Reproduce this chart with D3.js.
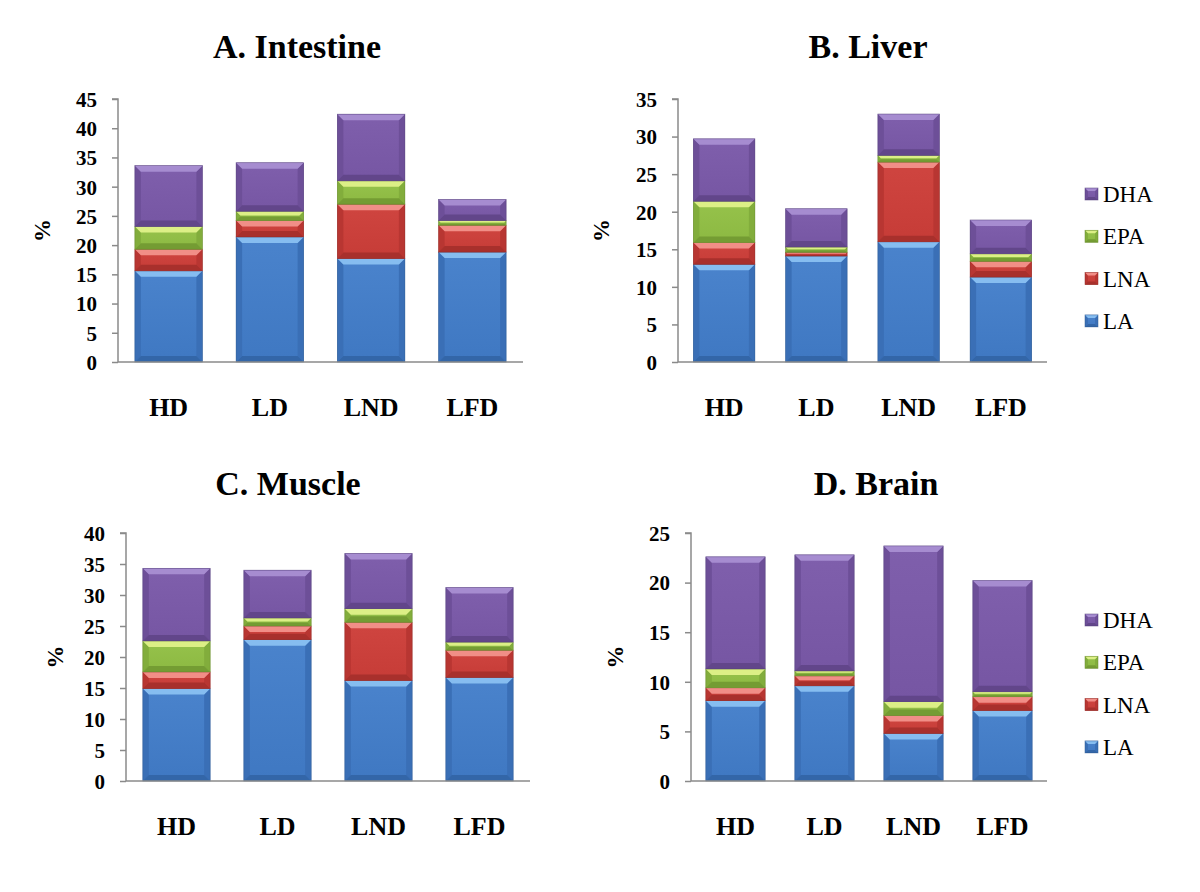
<!DOCTYPE html>
<html>
<head>
<meta charset="utf-8">
<script src="https://cdn.jsdelivr.net/npm/d3@7"></script>
<style>
  html, body { margin: 0; padding: 0; background: #fff; }
  svg { display: block; }
  svg text { font-family: "Liberation Serif", "Tinos", "Times New Roman", "DejaVu Serif", serif; }
</style>
</head>
<body>
<svg id="chart" width="1200" height="892"></svg>
<script>
// ---- data ----
const categories = ["HD", "LD", "LND", "LFD"];
const seriesNames = ["LA", "LNA", "EPA", "DHA"];
const legendOrder = ["DHA", "EPA", "LNA", "LA"];

// segment values (%), rows follow seriesNames, columns follow categories
const intestineValues = [
  [15.6, 21.4, 17.7, 18.8], // LA
  [3.7, 2.8, 9.3, 4.6],     // LNA
  [3.9, 1.6, 4.0, 0.8],     // EPA
  [10.4, 8.3, 11.4, 3.6]    // DHA
];
const liverValues = [
  [13.0, 14.1, 16.0, 11.3],
  [2.9, 0.5, 10.6, 2.1],
  [5.5, 0.7, 0.9, 1.0],
  [8.3, 5.1, 5.5, 4.5]
];
const muscleValues = [
  [14.9, 22.8, 16.2, 16.7],
  [2.7, 2.2, 9.4, 4.4],
  [5.0, 1.3, 2.2, 1.3],
  [11.7, 7.7, 8.9, 8.8]
];
const brainValues = [
  [8.1, 9.6, 4.8, 7.1],
  [1.3, 1.0, 1.8, 1.4],
  [1.9, 0.5, 1.4, 0.5],
  [11.3, 11.7, 15.7, 11.2]
];

const intestineTicks = [0, 5, 10, 15, 20, 25, 30, 35, 40, 45];
const liverTicks = [0, 5, 10, 15, 20, 25, 30, 35];
const muscleTicks = [0, 5, 10, 15, 20, 25, 30, 35, 40];
const brainTicks = [0, 5, 10, 15, 20, 25];

const titles = ["A. Intestine", "B. Liver", "C. Muscle", "D. Brain"];

// ---- styles ----
const palette = {
  LA:  { face: "#3f78c2", top: "#86bdf0", side: "#3a6fb6", bottom: "#3366a8", edge: "#2f5a92", hiTop: "#4a83cc" },
  LNA: { face: "#c63c37", top: "#f18e87", side: "#b83632", bottom: "#a8302c", edge: "#8e2b27", hiTop: "#cf4540" },
  EPA: { face: "#8cb942", top: "#dcef86", side: "#82ad3c", bottom: "#749c33", edge: "#66872e", hiTop: "#96c24b" },
  DHA: { face: "#7656a3", top: "#a68cd0", side: "#6d4f98", bottom: "#62468a", edge: "#54407a", hiTop: "#7f5fac" }
};

const serif = "'Liberation Serif', 'Tinos', 'Times New Roman', 'DejaVu Serif', serif";

const svg = d3.select("#chart");
svg.append("rect").attr("width", 1200).attr("height", 892).attr("fill", "#fff");

const defs = svg.append("defs");
seriesNames.forEach(s => {
  const g = defs.append("linearGradient").attr("id", "grad-" + s)
    .attr("x1", 0).attr("y1", 0).attr("x2", 0).attr("y2", 1);
  g.append("stop").attr("offset", "0%").attr("stop-color", palette[s].hiTop);
  g.append("stop").attr("offset", "100%").attr("stop-color", palette[s].face);
});

const panels = [
  { title: titles[0], values: intestineValues, ticks: intestineTicks, x0: 118, x1: 523, yTop: 99, yBot: 362, titleX: 297, titleY: 58, legend: false, pctX: 42 },
  { title: titles[1], values: liverValues, ticks: liverTicks, x0: 678, x1: 1047, yTop: 99, yBot: 362, titleX: 868, titleY: 58, legend: true, legendY: 194, pctX: 601 },
  { title: titles[2], values: muscleValues, ticks: muscleTicks, x0: 126, x1: 530, yTop: 533, yBot: 781, titleX: 288, titleY: 495, legend: false, pctX: 55 },
  { title: titles[3], values: brainValues, ticks: brainTicks, x0: 691, x1: 1047, yTop: 533, yBot: 781, titleX: 876, titleY: 495, legend: true, legendY: 620, pctX: 615 }
];

function bevelBox(g, x, y, w, h, s, bMax) {
  const p = palette[s];
  const b = Math.max(1, Math.min(bMax, h / 2 - 0.5, w / 2));
  g.append("rect").attr("x", x).attr("y", y).attr("width", w).attr("height", h)
    .attr("fill", "url(#grad-" + s + ")");
  const poly = pts => pts.map(q => q.join(",")).join(" ");
  g.append("polygon").attr("points", poly([[x, y], [x + b, y + b], [x + b, y + h - b], [x, y + h]]))
    .attr("fill", p.side);
  g.append("polygon").attr("points", poly([[x + w, y], [x + w - b, y + b], [x + w - b, y + h - b], [x + w, y + h]]))
    .attr("fill", p.side);
  g.append("polygon").attr("points", poly([[x, y + h], [x + w, y + h], [x + w - b, y + h - b], [x + b, y + h - b]]))
    .attr("fill", p.bottom);
  g.append("polygon").attr("points", poly([[x, y], [x + w, y], [x + w - b, y + b], [x + b, y + b]]))
    .attr("fill", p.top);
  g.append("rect").attr("x", x).attr("y", y).attr("width", w).attr("height", h)
    .attr("fill", "none").attr("stroke", p.edge).attr("stroke-width", 0.7).attr("stroke-opacity", 0.7);
}

panels.forEach(P => {
  const g = svg.append("g");
  const x = d3.scaleBand().domain(categories).range([P.x0, P.x1])
    .paddingInner(1 / 3).paddingOuter(1 / 6);
  const yMax = P.ticks[P.ticks.length - 1];
  const y = d3.scaleLinear().domain([0, yMax]).range([P.yBot, P.yTop]);

  g.append("text").attr("x", P.titleX).attr("y", P.titleY)
    .attr("text-anchor", "middle")
    .style("font-family", serif)
    .attr("font-weight", "bold").attr("font-size", 34).attr("fill", "#000")
    .text(P.title);

  const rows = categories.map((c, i) => {
    const r = { cat: c };
    seriesNames.forEach((s, k) => { r[s] = P.values[k][i]; });
    return r;
  });
  const stacked = d3.stack().keys(seriesNames)(rows);

  stacked.forEach(layer => {
    const s = layer.key;
    layer.forEach(d => {
      const bx = x(d.data.cat);
      const by = y(d[1]);
      const bh = y(d[0]) - y(d[1]);
      bevelBox(g, bx, by, x.bandwidth(), bh, s, 6);
    });
  });

  const yAxis = d3.axisLeft(y).tickValues(P.ticks).tickSize(6).tickPadding(15).tickFormat(d3.format("d"));
  const ya = g.append("g").attr("transform", `translate(${P.x0},0)`).call(yAxis);
  ya.attr("font-family", null).attr("font-size", null);
  ya.select(".domain").attr("stroke", "#8a8a8a").attr("stroke-width", 1.5)
    .attr("d", `M-6,${P.yTop}H0V${P.yBot}`);
  ya.selectAll(".tick line").attr("stroke", "#8a8a8a").attr("stroke-width", 1.5);
  ya.selectAll(".tick text")
    .style("font-family", serif)
    .attr("font-weight", "bold").attr("font-size", 21).attr("fill", "#000")
    .attr("dy", "0.35em");

  const xAxis = d3.axisBottom(x).tickSize(0).tickPadding(36);
  const xa = g.append("g").attr("transform", `translate(0,${P.yBot})`).call(xAxis);
  xa.attr("font-family", null).attr("font-size", null);
  xa.select(".domain").attr("stroke", "#8a8a8a").attr("stroke-width", 1.5)
    .attr("d", `M${P.x0},0H${P.x1}`);
  xa.selectAll(".tick text")
    .style("font-family", serif)
    .attr("font-weight", "bold").attr("font-size", 26).attr("fill", "#000");

  const midY = (P.yTop + P.yBot) / 2;
  g.append("text")
    .attr("transform", `translate(${P.pctX + 8},${midY}) rotate(-90)`)
    .attr("text-anchor", "middle")
    .style("font-family", serif)
    .attr("font-weight", "bold").attr("font-size", 23).attr("fill", "#000")
    .text("%");

  if (P.legend) {
    legendOrder.forEach((s, i) => {
      const cy = P.legendY + i * 42.3;
      bevelBox(g, 1085, cy - 6, 13, 12, s, 3);
      g.append("text").attr("x", 1103).attr("y", cy + 8)
        .style("font-family", serif)
        .attr("font-size", 23).attr("fill", "#000")
        .text(s);
    });
  }
});
</script>
</body>
</html>
